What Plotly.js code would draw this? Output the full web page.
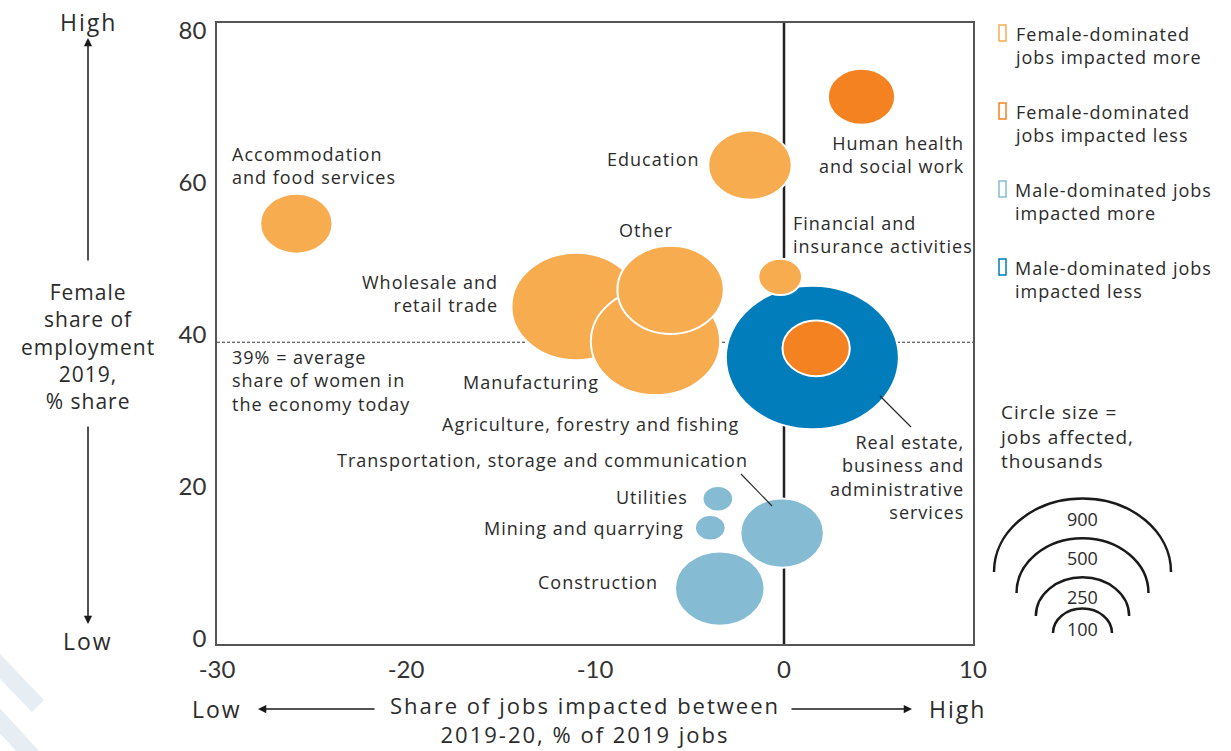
<!DOCTYPE html>
<html>
<head>
<meta charset="utf-8">
<script src="https://cdn.plot.ly/plotly-3.0.1.min.js"></script>
<style>
  html, body { margin: 0; padding: 0; background: #fff; }
  #chart { width: 1231px; height: 751px; }
</style>
</head>
<body>
<div id="chart"></div>
<script>
// 業種ごとのデータ
const sectors = [
  "Accommodation and food services",
  "Education",
  "Wholesale and retail trade",
  "Manufacturing",
  "Other",
  "Real estate, business and administrative services",
  "Agriculture, forestry and fishing",
  "Financial and insurance activities",
  "Human health and social work",
  "Utilities",
  "Mining and quarrying",
  "Transportation, storage and communication",
  "Construction"
];
// 2019-20 の雇用影響（2019年比 %）
const jobsImpacted = [-25.8, -1.8, -11.0, -6.8, -6.0, 1.5, 1.7, -0.2, 4.1, -3.5, -3.9, -0.1, -3.4];
// 女性の雇用シェア 2019 (%)
const femaleShare = [54.6, 62.3, 43.7, 39.1, 45.9, 37.0, 38.2, 47.6, 71.3, 18.4, 14.6, 13.9, 6.6];
// 影響を受けた雇用（千人）
const jobsAffected = [150, 200, 480, 480, 325, 860, 130, 55, 130, 27, 27, 200, 230];
// グループ
const groups = ["femMore", "femMore", "femMore", "femMore", "femMore", "maleLess", "femLess", "femMore", "femLess", "maleMore", "maleMore", "maleMore", "maleMore"];

const groupNames = ["femMore", "femLess", "maleMore", "maleLess"];
const groupLabels = [
  "Female-dominated<br>jobs impacted more",
  "Female-dominated<br>jobs impacted less",
  "Male-dominated jobs<br>impacted more",
  "Male-dominated jobs<br>impacted less"
];
const averageFemaleShare = 39;
const sizeLegend = [900, 500, 250, 100];

const xTicks = [-30, -20, -10, 0, 10];
const xTickText = ["-30", "-20", "-10", "0", "10"];
const yTicks = [0, 20, 40, 60, 80];

// 色
const colors = {
  femMore: "#F8AC50",
  femLess: "#F58220",
  maleMore: "#85BCD4",
  maleLess: "#007DBA"
};
const TEXT = "#2b2b2b";
const FONT = "'Open Sans', Lato, sans-serif";

// プロット領域（ピクセル）
const W = 1231, H = 751;
const plotL = 217, plotR = 973, plotT = 23, plotB = 644;
const xRange = [-30, 10];
const yRange = [-0.7, 81.0];

// ピクセル -> paper 座標
function px(x) { return (x - plotL) / (plotR - plotL); }
function py(y) { return (plotB - y) / (plotB - plotT); }

// 円の大きさ: 半径(px) = K * sqrt(千人)、縦は少しつぶれた楕円
const K = 2.95;
const ASPECT = 0.83;
const xUnitPx = (plotR - plotL) / (xRange[1] - xRange[0]);
const yUnitPx = (plotB - plotT) / (yRange[1] - yRange[0]);

const shapes = [];

// x = 0 の縦線
shapes.push({
  type: "line", xref: "x", yref: "paper",
  x0: 0, x1: 0, y0: 0, y1: 1,
  line: { color: "#231F20", width: 2.5 }
});
// 平均シェアの点線
shapes.push({
  type: "line", xref: "paper", yref: "y",
  x0: 0, x1: 1, y0: averageFemaleShare, y1: averageFemaleShare,
  line: { color: "#333", width: 1, dash: "3px,2px" }
});

// バブル
for (let i = 0; i < sectors.length; i++) {
  const r = K * Math.sqrt(jobsAffected[i]);
  const rx = r / xUnitPx;
  const ry = r * ASPECT / yUnitPx;
  shapes.push({
    type: "circle", xref: "x", yref: "y",
    x0: jobsImpacted[i] - rx, x1: jobsImpacted[i] + rx,
    y0: femaleShare[i] - ry, y1: femaleShare[i] + ry,
    fillcolor: colors[groups[i]],
    line: { color: "#ffffff", width: 2 }
  });
}

// 引き出し線
shapes.push({ type: "line", xref: "paper", yref: "paper", x0: px(880), y0: py(396), x1: px(911), y1: py(427), line: { color: TEXT, width: 1.2 } });
shapes.push({ type: "line", xref: "paper", yref: "paper", x0: px(741), y0: py(474), x1: px(772), y1: py(506), line: { color: TEXT, width: 1.2 } });

// 凡例の色の箱
groupNames.forEach((g, k) => {
  const yc = 33 + k * 78;
  shapes.push({
    type: "rect", xref: "paper", yref: "paper",
    x0: px(999), x1: px(1006), y0: py(yc - 8), y1: py(yc + 8),
    line: { color: colors[g], width: 1.5 }
  });
});

const annotations = [];

// ラベル（文字間を少し広げる）
function label(text, x, y, xanchor, size, ls, yanchor) {
  const body = text.split("<br>")
    .map(t => ls ? '<span style="letter-spacing:' + ls + 'px">' + t + "</span>" : t)
    .join("<br>");
  annotations.push({
    xref: "paper", yref: "paper", x: px(x), y: py(y),
    text: body, showarrow: false, xanchor: xanchor, yanchor: yanchor || "middle",
    align: xanchor === "center" ? "center" : xanchor,
    borderpad: 0,
    font: { size: size || 18, color: TEXT, family: FONT }
  });
}

// サイズ凡例の半円
const arcCx = 1082.5;
const arcBase = [572, 593, 616, 633];
sizeLegend.forEach((v, k) => {
  const r = K * Math.sqrt(v);
  const rx = r, ry = r * ASPECT;
  const b = arcBase[k];
  const c = 0.5523;
  const p = (x, y) => px(x) + "," + py(y);
  const path = "M" + p(arcCx - rx, b) +
    " C" + p(arcCx - rx, b - c * ry) + " " + p(arcCx - c * rx, b - ry) + " " + p(arcCx, b - ry) +
    " C" + p(arcCx + c * rx, b - ry) + " " + p(arcCx + rx, b - c * ry) + " " + p(arcCx + rx, b);
  shapes.push({ type: "path", xref: "paper", yref: "paper", path: path, line: { color: "#1a1a1a", width: 2.5 } });
  label(String(v), arcCx, b - ry + 20, "center", 18);
});

// 背景の斜線
shapes.push({ type: "line", xref: "paper", yref: "paper", x0: px(-8), y0: py(658), x1: px(38), y1: py(706), line: { color: "#E6EEF3", width: 17 } });
shapes.push({ type: "line", xref: "paper", yref: "paper", x0: px(-8), y0: py(712), x1: px(34), y1: py(758), line: { color: "#E6EEF3", width: 17 } });

label("Accommodation<br>and food services", 231, 165, "left", 18, 1);
label("Education", 701, 159, "right", 18, 1);
label("Other", 646, 230, "center", 18, 1);
label("Wholesale and<br>retail trade", 499, 293, "right", 18, 1);
label("Human health<br>and social work", 965, 154, "right", 18, 1);
label("Financial and<br>insurance activities", 792, 235, "left", 18, 1);
label("39% = average<br>share of women in<br>the economy today", 231, 380, "left", 18, 1);
label("Manufacturing", 462, 382, "left", 18, 1);
label("Agriculture, forestry and fishing", 441, 424, "left", 18, 1);
label("Transportation, storage and communication", 336, 460, "left", 18, 1);
label("Utilities", 689, 497, "right", 18, 1);
label("Mining and quarrying", 685, 528, "right", 18, 1);
label("Construction", 659, 582, "right", 18, 1);
label("Real estate,<br>business and<br>administrative<br>services", 965, 477, "right", 18, 1);

// 凡例テキスト
groupLabels.forEach((t, k) => {
  label(t, 1014, 45 + k * 78, "left", 18, 1);
});
label("Circle size =<br>jobs affected,<br>thousands", 998, 436, "left", 19, 1);

// 軸タイトル（左）
label("High", 88, 22, "center", 23, 2);
label("Female<br>share of<br>employment<br>2019,<br>% share", 88, 346, "center", 21, 1);
label("Low", 88, 641, "center", 23, 2);
// 軸タイトル（下）
label("Low", 217, 709, "center", 23, 2);
label("Share of jobs impacted between<br>2019-20, % of 2019 jobs", 585, 750, "center", 22, 2, "bottom");
label("High", 957, 709, "center", 23, 2);

// 矢印
function arrow(tipX, tipY, tailX, tailY) {
  annotations.push({
    xref: "paper", yref: "paper", x: px(tipX), y: py(tipY),
    ax: tailX - tipX, ay: tailY - tipY, axref: "pixel", ayref: "pixel",
    text: "", showarrow: true, arrowhead: 2, arrowsize: 1.1, arrowwidth: 1.5, arrowcolor: "#1a1a1a"
  });
}
arrow(88, 38, 88, 262);
arrow(88, 624, 88, 425);
arrow(258, 709, 376, 709);
arrow(912, 709, 790, 709);

// 中心点（ホバー用）
const trace = {
  x: jobsImpacted,
  y: femaleShare,
  text: sectors,
  customdata: jobsAffected,
  mode: "markers",
  type: "scatter",
  marker: { size: 6, opacity: 0 },
  hovertemplate: "%{text}<br>%{x}%, %{y}%<br>%{customdata}k jobs<extra></extra>",
  showlegend: false
};

const layout = {
  width: W,
  height: H,
  margin: { l: plotL, r: W - plotR, t: plotT, b: H - plotB },
  paper_bgcolor: "#ffffff",
  plot_bgcolor: "#ffffff",
  showlegend: false,
  font: { family: FONT, color: TEXT },
  xaxis: {
    range: xRange, tickvals: xTicks, ticktext: xTickText, showgrid: false, zeroline: false,
    showline: true, mirror: true, linecolor: "#555", linewidth: 1.5,
    ticks: "", ticklabelstandoff: 3,
    tickfont: { size: 24, color: "#333", family: "Lato, sans-serif" }
  },
  yaxis: {
    range: yRange, tickvals: yTicks, showgrid: false, zeroline: false,
    showline: true, mirror: true, linecolor: "#555", linewidth: 1.5,
    ticks: "", ticklabelstandoff: 4,
    tickfont: { size: 24, color: "#333", family: "Lato, sans-serif" }
  },
  shapes: shapes,
  annotations: annotations
};

Plotly.newPlot("chart", [trace], layout, { displayModeBar: false });
</script>
</body>
</html>
